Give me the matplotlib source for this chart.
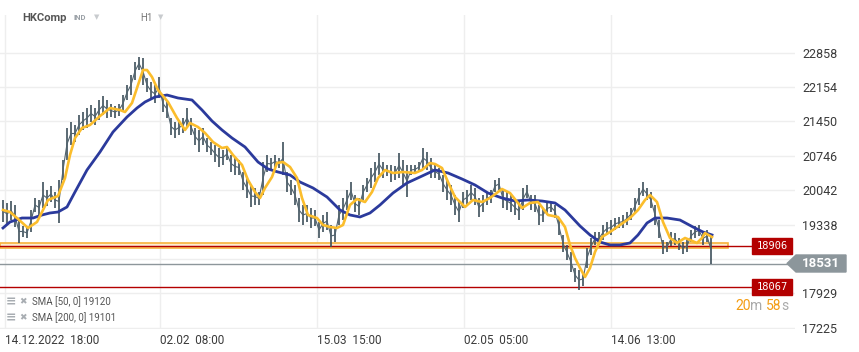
import matplotlib
matplotlib.use('Agg')
import matplotlib.pyplot as plt
from matplotlib.patches import Rectangle, Polygon
import numpy as np

plt.rcParams['font.family'] = ['Roboto', 'DejaVu Sans']

# hourly bars (sampled), high / low
high = [19843, 19782, 19822, 19741, 19433, 19311, 19270, 19638, 19884, 19843,
        20211, 20048, 20130, 20007, 20252, 20662, 21317, 21440, 21378, 21583,
        21644, 21726, 21788, 21726, 21890, 21972, 21890, 21808, 21767, 21808,
        21992, 22197, 22402, 22668, 22770, 22750, 22340, 22258, 22197, 22361,
        21992, 21890, 21521, 21440, 21481, 21521, 21726, 21521, 21317, 21276,
        21317, 21112, 21030, 20969, 20907, 20867, 20907, 20764, 20703, 20662,
        20416, 20293, 20150, 20089, 20007, 20621, 20764, 20703, 20764, 20703,
        21030, 20416, 20252, 20150, 19884, 19741, 19741, 19679, 19638, 19393,
        19536, 19597, 19331, 19270, 19741, 19884, 20048, 20211, 19945, 19884,
        20150, 20293, 20498, 20621, 20805, 20621, 20560, 20560, 20539, 20805,
        20662, 20560, 20560, 20560, 20621, 20907, 20826, 20703, 20560, 20498,
        20355, 20252, 20150, 19945, 19802, 20007, 20048, 20150, 20089, 19884,
        19945, 20007, 20048, 20252, 20293, 20048, 20007, 19945, 19843, 19802,
        20089, 20150, 19945, 19945, 19741, 19679, 19802, 19802, 19741, 19474,
        19127, 18922, 18779, 18451, 18410, 18369, 18860, 19065, 19188, 19188,
        19331, 19393, 19433, 19474, 19495, 19536, 19597, 19679, 19884, 20089,
        20211, 20089, 20007, 19741, 19433, 19024, 18983, 19188, 19167, 19065,
        18983, 19024, 19229, 19311, 19331, 19188, 19229, 19127]
low = [19393, 19331, 19433, 19290, 18963, 19086, 19065, 19188, 19597, 19536,
       19679, 19720, 19802, 19679, 19372, 20252, 20662, 20969, 21030, 21174,
       21276, 21317, 21440, 21378, 21481, 21583, 21521, 21542, 21521, 21562,
       21644, 21890, 21992, 22299, 22504, 22197, 22054, 21890, 21829, 21931,
       21644, 21521, 21174, 21112, 21174, 21215, 21317, 21174, 20969, 20826,
       20969, 20826, 20764, 20621, 20519, 20560, 20662, 20416, 20355, 20355,
       20048, 19884, 19700, 19741, 19741, 19945, 20416, 20457, 20498, 20498,
       20355, 20007, 19945, 19741, 19393, 19331, 19393, 19270, 19311, 19065,
       19188, 19229, 18881, 18983, 19331, 19433, 19638, 19843, 19597, 19536,
       19843, 20007, 20089, 20211, 20355, 20293, 20334, 20211, 20252, 20293,
       20150, 19904, 20355, 20375, 20416, 20498, 20457, 20293, 20293, 20252,
       20007, 19843, 19741, 19536, 19393, 19679, 19741, 19843, 19741, 19495,
       19597, 19741, 19782, 20007, 20048, 19679, 19638, 19597, 19536, 19433,
       19638, 19884, 19638, 19597, 19331, 19393, 19536, 19597, 19474, 19127,
       18779, 18615, 18369, 18164, 18001, 18083, 18451, 18717, 18922, 18922,
       19024, 19127, 19127, 19229, 19270, 19270, 19331, 19433, 19556, 19741,
       19925, 19843, 19679, 19331, 19065, 18738, 18779, 18901, 18922, 18820,
       18738, 18779, 18983, 19065, 19106, 18922, 18983, 18531]

# moving averages (bar position, value)
sma50_bar = [0, 1.75, 3.5, 6.25, 8.5, 9.75, 11.25, 13.75, 15.5, 16.75, 18, 19.75,
             21.75, 24.25, 26.75, 29.25, 30.5, 32.25, 33.75, 35, 36, 37.25, 38.75,
             41.25, 43.5, 45.5, 46.75, 48.75, 50.5, 52.5, 54.75, 56, 57.5, 59.75,
             61.25, 63, 64.25, 65.5, 67.25, 68.5, 70, 71.75, 73.5, 74.75, 76.25,
             78.5, 80, 81.75, 83.5, 85, 86.75, 88.5, 90.5, 92.25, 93.75, 95.5,
             97.5, 100, 103, 104.75, 106.75, 108, 109.75, 111.25, 113, 115.5,
             117.5, 119.75, 121.75, 124.75, 126.75, 129.75, 131.75, 133.75,
             136.25, 138.75, 140.5, 141.75, 143, 144.25, 145.5, 146.75, 148,
             149.75, 151.75, 154.25, 156.75, 158.75, 160.5, 161.75, 163.5, 165,
             166.75, 168.5, 170.5, 171.75, 173.5, 174.75, 175.5, 177.25]
sma50 = [19638, 19597, 19474, 19270, 19393, 19597, 19843, 19925, 20293, 20764,
         21112, 21317, 21378, 21562, 21726, 21685, 21644, 21829, 22197, 22504,
         22504, 22361, 22094, 21849, 21521, 21276, 21419, 21337, 21215, 21030,
         20907, 20928, 20764, 20560, 20252, 20007, 19884, 20089, 20314, 20600,
         20621, 20519, 20293, 19884, 19536, 19474, 19331, 19290, 19270, 19331,
         19741, 19863, 19802, 20007, 20293, 20457, 20396, 20416, 20396, 20457,
         20600, 20580, 20498, 20211, 19904, 19700, 19843, 19802, 19884, 20068,
         19986, 19679, 19782, 19802, 19536, 19495, 19290, 18922, 18656, 18451,
         18267, 18451, 18779, 19086, 19188, 19331, 19474, 19638, 19843, 19945,
         19802, 19393, 19065, 18963, 19065, 19024, 18963, 19065, 19167, 19086]

sma200_bar = [0, 1.75, 4.75, 7.5, 9.75, 11.75, 13.75, 16, 18, 21, 24.25, 27.5, 31,
              33.5, 35.5, 38, 41, 43.75, 47.25, 49.75, 52.25, 54.75, 57.25, 60.5,
              63.75, 66.25, 68.75, 71.75, 74.25, 77.5, 81, 84.25, 86.75, 89.25,
              91.75, 94.25, 97.5, 101, 104.25, 108, 111.25, 114.75, 118, 121.25,
              124.75, 128, 131.25, 134.75, 138, 140.5, 144.25, 146.75, 149.25,
              151.75, 154.25, 156.75, 158.75, 161, 163, 166, 169.25, 172.5, 175,
              177.25]
sma200 = [19270, 19393, 19474, 19474, 19536, 19577, 19597, 19700, 20007, 20457,
          20826, 21235, 21542, 21726, 21849, 21951, 21992, 21931, 21890, 21685,
          21460, 21276, 21112, 20928, 20621, 20478, 20416, 20355, 20211, 20089,
          19904, 19638, 19536, 19495, 19577, 19741, 19986, 20191, 20314, 20457,
          20396, 20273, 20150, 19986, 19884, 19822, 19843, 19822, 19782, 19638,
          19311, 19127, 18983, 18922, 18922, 18963, 19127, 19372, 19474, 19474,
          19433, 19290, 19188, 19127]

y_ticks = [22858, 22154, 21450, 20746, 20042, 19338, 18634, 17929, 17225]
x_tick_pos = [0.5, 39.25, 78.5, 115.25, 152]
x_tick_labels = ['14.12.2022  18:00', '02.02  08:00', '15.03  15:00',
                 '02.05  05:00', '14.06  13:00']

zone = (18850, 18963)
resist = 18906
last = 18531
support = 18067

W, H = 859, 352
fig = plt.figure(figsize=(W / 100, H / 100), dpi=100)
fig.patch.set_facecolor('white')

def fx(px):
    return px / W

def fy(py):
    return 1 - py / H

ax = fig.add_axes([0, fy(329), fx(795), (329 - 15) / H])
ax.set_xlim(-0.75, 198)
ax.set_ylim(17202, 23630)
for s in ax.spines.values():
    s.set_visible(False)

ax.set_yticks(y_ticks)
ax.yaxis.tick_right()
ax.tick_params(axis='y', length=0, pad=5, labelsize=9, labelcolor='#3a3a3a')
ax.set_xticks(x_tick_pos)
ax.set_xticklabels([])
ax.tick_params(axis='x', length=0)
ax.grid(True, color='#eeeeee', lw=1)
ax.set_axisbelow(True)

for p, lab in zip(x_tick_pos, x_tick_labels):
    ax.annotate(lab, (p, 0), xycoords=('data', 'axes fraction'),
                xytext=(0, -11), textcoords='offset pixels',
                ha='left', va='center', fontsize=8.5, color='#3a3a3a',
                annotation_clip=False)

# levels
ax.axhspan(zone[0], zone[1], xmin=0, xmax=728 / 795, facecolor='#fdebd0',
           edgecolor='#f7b23b', lw=1.2, zorder=1)
ax.axhline(resist, xmin=0, xmax=752 / 795, color='#b40000', lw=1, zorder=2)
ax.axhline(last, xmin=0, xmax=790 / 795, color='#8d969b', lw=1, zorder=2)
ax.axhline(support, xmin=0, xmax=752 / 795, color='#b40000', lw=1, zorder=2)

# price bars
idx = np.arange(len(high))
mid = (np.array(high) + np.array(low)) / 2
ax.vlines(idx, low, high, color='#3e505b', lw=1.2, zorder=3)
ax.plot(idx, mid, color='#51636e', lw=0.8, zorder=3)

ax.plot(sma200_bar, sma200, color='#2b3a9c', lw=2, zorder=4)
ax.plot(sma50_bar, sma50, color='#fbbd2c', lw=1.9, zorder=5)

# price tags
def tag(py, txt):
    fig.patches.append(Rectangle((fx(752), fy(py + 8)), fx(40), 16 / H,
                                 transform=fig.transFigure, color='#b30000',
                                 zorder=5))
    fig.text(fx(772), fy(py), txt, ha='center', va='center', color='white',
             fontsize=7.5, family='DejaVu Sans Mono', zorder=6)

tag(246, str(resist))
tag(287, str(support))

fig.patches.append(Polygon([(fx(787), fy(263.5)), (fx(796), fy(255)),
                            (fx(846), fy(255)), (fx(846), fy(272)),
                            (fx(796), fy(272))], closed=True,
                           transform=fig.transFigure, color='#8c969b',
                           zorder=5))
fig.text(fx(821), fy(263.5), str(last), ha='center', va='center',
         color='white', fontsize=9.5, fontweight='bold', zorder=6)

# header
fig.text(fx(22), fy(18), 'HKComp', fontsize=8, fontweight='bold',
         color='#555555', va='center')
fig.text(fx(73), fy(18), 'IND', fontsize=5.5, fontweight='bold',
         color='#9aa0a6', va='center')
fig.text(fx(94), fy(17), '▼', fontsize=5, color='#c8cbce', va='center',
         family='DejaVu Sans')
fig.text(fx(140), fy(18), 'H1', fontsize=7, color='#777777', va='center')
fig.text(fx(158), fy(17), '▼', fontsize=5, color='#c8cbce', va='center',
         family='DejaVu Sans')

# indicator legend
for py, lab in [(302, 'SMA [50, 0] 19120'), (318, 'SMA [200, 0] 19101')]:
    fig.text(fx(6), fy(py), '≡', fontsize=9, color='#a8adb2', va='center',
             family='DejaVu Sans', fontweight='bold')
    fig.text(fx(19), fy(py), '✖', fontsize=6.5, color='#a8adb2', va='center',
             family='DejaVu Sans')
    fig.text(fx(32), fy(py), lab, fontsize=7, color='#555555', va='center')

# countdown
for px, t, c in [(735, '20', '#f39c12'), (750, 'm', '#aaaaaa'),
                 (766, '58', '#f39c12'), (781, 's', '#aaaaaa')]:
    fig.text(fx(px), fy(306), t, fontsize=10, color=c, va='center')

fig.savefig('out.png', dpi=100)
